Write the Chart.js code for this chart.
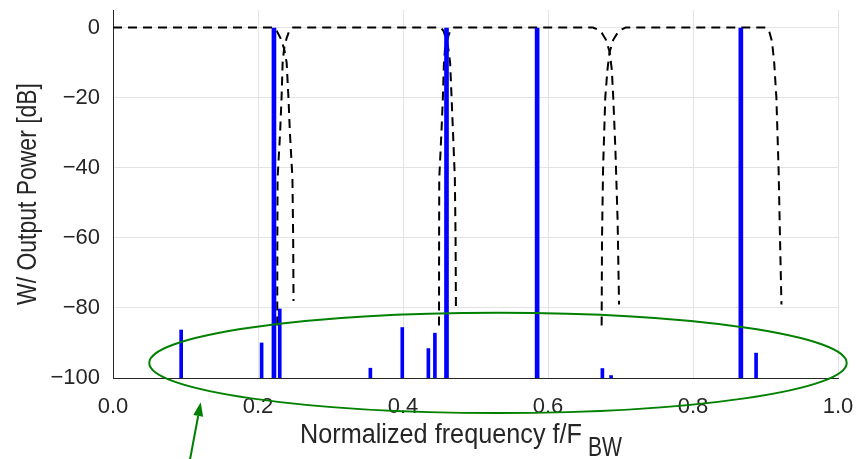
<!DOCTYPE html>
<html>
<head>
<meta charset="utf-8">
<script src="https://cdn.jsdelivr.net/npm/chart.js@4.4.1/dist/chart.umd.min.js"></script>
<style>
    html, body { margin: 0; padding: 0; background: #fff; }
</style>
</head>
<body>
<canvas id="chart" width="865" height="459"></canvas>
<script>
// tones that pass (0 dB) and the small spurs near the floor
const FREQ_MAIN = [0.222, 0.460, 0.585, 0.866];
const POWER_MAIN = [0, 0, 0, 0];
const FREQ_SPUR = [0.094, 0.205, 0.230, 0.355, 0.399, 0.435, 0.444, 0.675, 0.687, 0.887];
const POWER_SPUR = [-86.3, -90.0, -80.3, -97.2, -85.6, -91.6, -87.2, -97.3, -99.3, -92.9];

// filter bank responses (dashed)
const FILT_A_F = [0.0, 0.221, 0.226, 0.231, 0.236, 0.2395, 0.242, 0.244, 0.2475, 0.2485, 0.249];
const FILT_A_DB = [0, 0, -1, -3, -6, -10, -20, -30, -43, -60, -78];
const FILT_B_F = [0.2265, 0.2267, 0.227, 0.2305, 0.2325, 0.234, 0.236, 0.2395, 0.243, 0.247,
    0.452, 0.456, 0.459, 0.4625, 0.465, 0.467, 0.469, 0.4715, 0.4725, 0.473];
const FILT_B_DB = [-85, -60, -43, -30, -20, -10, -6, -3, -1, 0,
    0, -1, -3, -6, -10, -20, -30, -43, -60, -80];
const FILT_C_F = [0.4497, 0.4498, 0.450, 0.453, 0.455, 0.4565, 0.458, 0.4615, 0.465, 0.469,
    0.662, 0.668, 0.674, 0.680, 0.685, 0.688, 0.690, 0.693, 0.696, 0.698];
const FILT_C_DB = [-85, -60, -43, -30, -20, -10, -6, -3, -1, 0,
    0, -0.5, -1.5, -3.5, -7, -12, -20, -35, -55, -79];
const FILT_D_F = [0.674, 0.6745, 0.676, 0.679, 0.682, 0.685, 0.690, 0.696, 0.702, 0.707,
    0.900, 0.905, 0.909, 0.912, 0.915, 0.918, 0.920, 0.922];
const FILT_D_DB = [-85, -60, -40, -20, -12, -7, -3.5, -1.5, -0.5, 0,
    0, -1, -4, -10, -20, -40, -60, -79];

const X_TICKS = [0, 0.2, 0.4, 0.6, 0.8, 1.0];
const Y_TICKS = [-100, -80, -60, -40, -20, 0];

// annotation (green ellipse round the spurs, arrow pointing at it), in data units
const ELLIPSE = { cx: 0.531, cy: -95.7, rx: 0.481, ry: 14.3 };
const ARROW = { x0: 0.106, y0: -123.5, x1: 0.121, y1: -106.9 };

const FONT = '"Liberation Sans", Arial, sans-serif';
const TEXT = '#262626';
const BLUE = 'rgb(0,0,255)';
const GREEN = 'rgb(0,128,0)';

const toXY = (xs, ys) => xs.map((x, i) => ({ x: x, y: ys[i] }));
const toStems = (xs, ys) => xs.map((x, i) => ({ x: x, y: [-100, ys[i]] }));

const filterLine = (xs, ys) => ({
    type: 'line',
    data: toXY(xs, ys),
    borderColor: '#000',
    borderWidth: 2,
    borderDash: [9, 6],
    pointRadius: 0,
    tension: 0,
    fill: false,
    order: 2
});

// draws text squeezed to a given width (the original uses a narrow, tall face)
const narrowText = (ctx, text, x, y, width) => {
    const w = ctx.measureText(text).width;
    ctx.save();
    ctx.translate(x, y);
    ctx.scale(width / w, 1);
    ctx.fillText(text, 0, 0);
    ctx.restore();
};

const decorations = {
    id: 'decorations',
    afterDatasetsDraw(chart) {
        const ctx = chart.ctx;
        const sx = chart.scales.x, sy = chart.scales.y;
        ctx.save();

        // green ellipse
        const cx = sx.getPixelForValue(ELLIPSE.cx);
        const cy = sy.getPixelForValue(ELLIPSE.cy);
        const rx = sx.getPixelForValue(ELLIPSE.cx + ELLIPSE.rx) - cx;
        const ry = sy.getPixelForValue(ELLIPSE.cy - ELLIPSE.ry) - cy;
        ctx.strokeStyle = GREEN;
        ctx.lineWidth = 2;
        ctx.beginPath();
        ctx.ellipse(cx, cy, rx, ry, 0, 0, Math.PI * 2);
        ctx.stroke();

        // arrow
        const ax0 = sx.getPixelForValue(ARROW.x0), ay0 = sy.getPixelForValue(ARROW.y0);
        const ax1 = sx.getPixelForValue(ARROW.x1), ay1 = sy.getPixelForValue(ARROW.y1);
        const ang = Math.atan2(ay1 - ay0, ax1 - ax0);
        const headLen = 14, headW = 5;
        const bx = ax1 - headLen * Math.cos(ang), by = ay1 - headLen * Math.sin(ang);
        ctx.beginPath();
        ctx.moveTo(ax0, ay0);
        ctx.lineTo(bx, by);
        ctx.stroke();
        ctx.fillStyle = GREEN;
        ctx.beginPath();
        ctx.moveTo(ax1, ay1);
        ctx.lineTo(bx + headW * Math.sin(ang), by - headW * Math.cos(ang));
        ctx.lineTo(bx - headW * Math.sin(ang), by + headW * Math.cos(ang));
        ctx.closePath();
        ctx.fill();

        // axis titles
        ctx.fillStyle = TEXT;
        ctx.font = '27px ' + FONT;
        ctx.textBaseline = 'middle';
        ctx.textAlign = 'left';
        narrowText(ctx, 'Normalized frequency f/F', 300, 436, 282);
        narrowText(ctx, 'BW', 588, 449, 34);

        ctx.translate(29, (chart.chartArea.top + chart.chartArea.bottom) / 2);
        ctx.rotate(-Math.PI / 2);
        ctx.textAlign = 'center';
        narrowText(ctx, 'W/ Output Power [dB]', 0, 0, 222);
        ctx.restore();
    }
};

new Chart(document.getElementById('chart'), {
    type: 'bar',
    data: {
        datasets: [
            {
                data: toStems(FREQ_MAIN, POWER_MAIN),
                backgroundColor: BLUE,
                barThickness: 4,
                grouped: false,
                order: 0
            },
            {
                data: toStems(FREQ_SPUR, POWER_SPUR),
                backgroundColor: BLUE,
                barThickness: 3,
                grouped: false,
                order: 0
            },
            filterLine(FILT_A_F, FILT_A_DB),
            filterLine(FILT_B_F, FILT_B_DB),
            filterLine(FILT_C_F, FILT_C_DB),
            filterLine(FILT_D_F, FILT_D_DB)
        ]
    },
    plugins: [decorations],
    options: {
        responsive: false,
        animation: false,
        layout: { padding: { top: 10, right: 27, left: 0, bottom: 0 } },
        plugins: {
            legend: { display: false },
            tooltip: { enabled: false }
        },
        scales: {
            x: {
                type: 'linear',
                min: 0,
                max: 1,
                offset: false,
                afterBuildTicks: (scale) => {
                    scale.ticks = X_TICKS.map(v => ({ value: v }));
                },
                afterFit: (scale) => {
                    scale.height = 81;
                    scale.paddingLeft = 0;
                    scale.paddingRight = 0;
                },
                grid: { color: '#e3e3e3', drawTicks: false, offset: false },
                border: { color: TEXT, width: 1 },
                ticks: {
                    color: TEXT,
                    font: { family: FONT, size: 22 },
                    padding: 16,
                    maxRotation: 0,
                    callback: (v) => v.toFixed(1)
                }
            },
            y: {
                min: -100,
                max: 5,
                afterBuildTicks: (scale) => {
                    scale.ticks = Y_TICKS.map(v => ({ value: v }));
                },
                afterFit: (scale) => {
                    scale.width = 113;
                    scale.paddingTop = 0;
                    scale.paddingBottom = 0;
                },
                grid: { color: '#e3e3e3', drawTicks: false },
                border: { color: TEXT, width: 1 },
                ticks: {
                    color: TEXT,
                    font: { family: FONT, size: 22 },
                    padding: 13,
                    callback: (v) => String(v).replace('-', '\u2212')
                }
            }
        }
    }
});
</script>
</body>
</html>
